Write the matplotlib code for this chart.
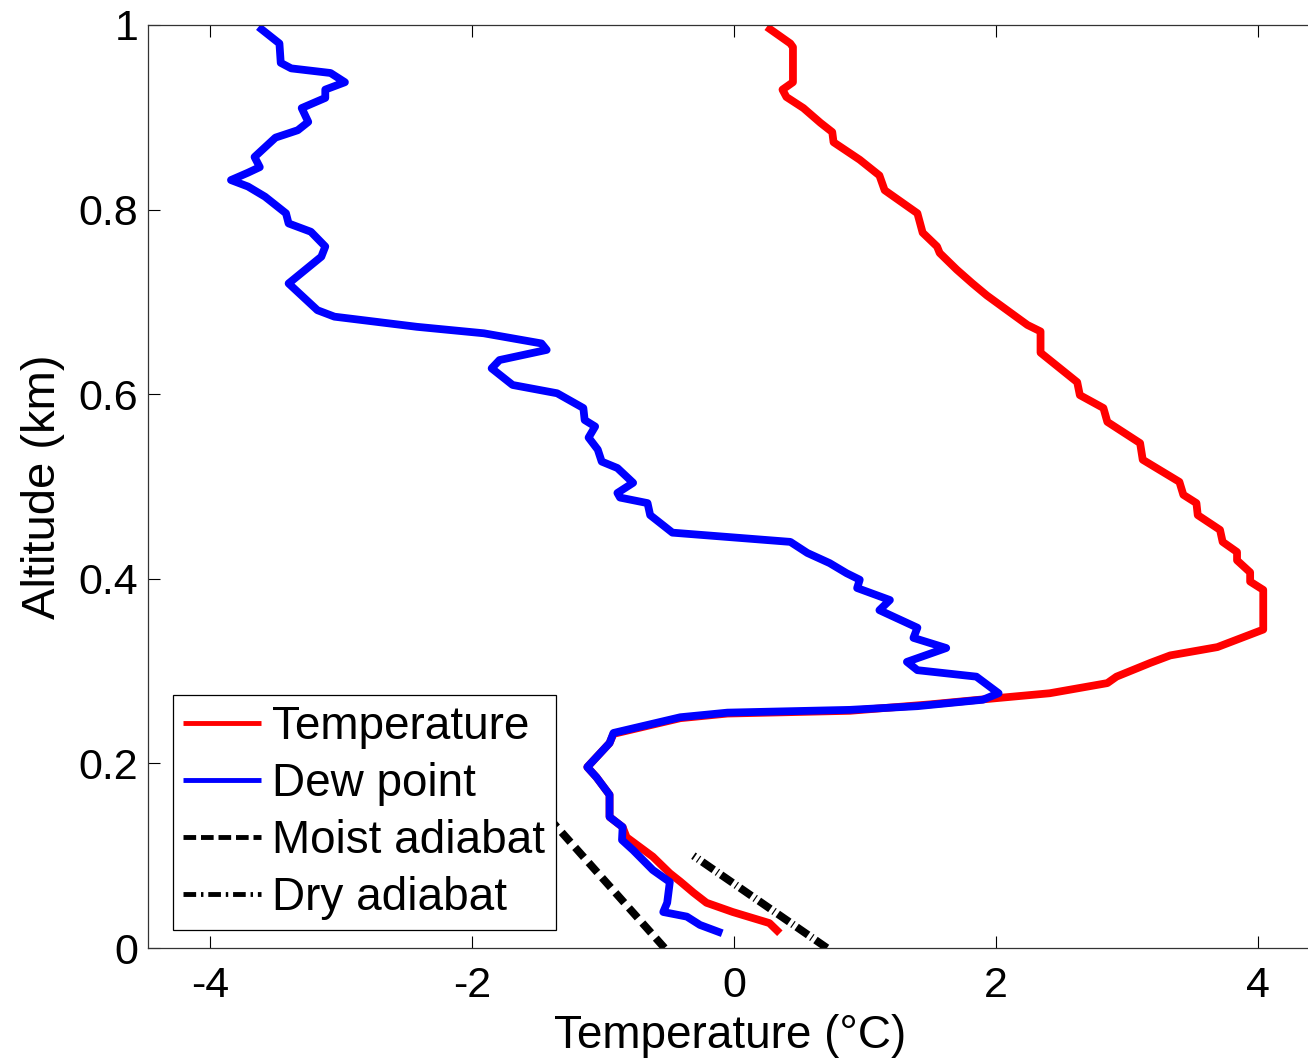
import numpy as np
from matplotlib import pyplot as plt

plt.rcParams['font.family'] = ['Liberation Sans', 'DejaVu Sans']

# dew point profile (altitude km, temperature C)
dew_z = [0.998, 0.98, 0.959, 0.953, 0.948, 0.938, 0.93, 0.921, 0.91, 0.895,
         0.886, 0.878, 0.857, 0.846, 0.84, 0.832, 0.825, 0.814, 0.796, 0.785,
         0.776, 0.76, 0.749, 0.72, 0.691, 0.684, 0.673, 0.666, 0.655, 0.648,
         0.637, 0.628, 0.61, 0.601, 0.585, 0.572, 0.565, 0.553, 0.54, 0.527,
         0.52, 0.504, 0.493, 0.488, 0.482, 0.469, 0.45, 0.44, 0.428, 0.417,
         0.406, 0.399, 0.39, 0.377, 0.366, 0.347, 0.336, 0.325, 0.31, 0.301,
         0.294, 0.276, 0.269, 0.262, 0.258, 0.255, 0.25, 0.233, 0.222, 0.196,
         0.185, 0.166, 0.142, 0.131, 0.117, 0.106, 0.0845, 0.0715, 0.049, 0.039,
         0.034, 0.025, 0.016]
dew_T = [-3.63, -3.47, -3.46, -3.38, -3.08, -2.97, -3.12, -3.12, -3.30, -3.25,
         -3.33, -3.50, -3.66, -3.62, -3.71, -3.84, -3.71, -3.58, -3.42, -3.40,
         -3.23, -3.12, -3.15, -3.40, -3.18, -3.05, -2.42, -1.91, -1.47, -1.43,
         -1.79, -1.85, -1.69, -1.35, -1.15, -1.14, -1.06, -1.11, -1.04, -1.01,
         -0.89, -0.77, -0.89, -0.87, -0.66, -0.64, -0.47, 0.43, 0.56, 0.73,
         0.86, 0.96, 0.94, 1.19, 1.11, 1.40, 1.37, 1.62, 1.32, 1.40,
         1.85, 2.02, 1.90, 1.40, 0.885, -0.05, -0.41, -0.92, -0.95, -1.12,
         -1.05, -0.95, -0.95, -0.85, -0.855, -0.77, -0.62, -0.49, -0.51, -0.54,
         -0.36, -0.26, -0.09]

# temperature profile
temp_z = [0.998, 0.98, 0.976, 0.938, 0.93, 0.922, 0.91, 0.894, 0.884, 0.873,
          0.854, 0.837, 0.821, 0.796, 0.775, 0.76, 0.753, 0.735, 0.72, 0.707,
          0.675, 0.668, 0.645, 0.613, 0.599, 0.585, 0.57, 0.547, 0.529, 0.505,
          0.491, 0.482, 0.469, 0.453, 0.44, 0.429, 0.42, 0.407, 0.397, 0.388,
          0.345, 0.326, 0.317, 0.309, 0.294, 0.287, 0.276, 0.27, 0.264, 0.257,
          0.254, 0.249, 0.232, 0.222, 0.196, 0.185, 0.166, 0.142, 0.131, 0.12,
          0.099, 0.081, 0.072, 0.06, 0.049, 0.039, 0.027, 0.016]
temp_T = [0.25, 0.43, 0.45, 0.45, 0.37, 0.40, 0.53, 0.66, 0.75, 0.76,
          0.96, 1.11, 1.15, 1.40, 1.44, 1.55, 1.57, 1.70, 1.82, 1.93,
          2.24, 2.34, 2.34, 2.62, 2.64, 2.82, 2.85, 3.10, 3.12, 3.40,
          3.43, 3.53, 3.54, 3.71, 3.73, 3.84, 3.84, 3.94, 3.94, 4.04,
          4.04, 3.69, 3.33, 3.18, 2.92, 2.85, 2.41, 1.95, 1.50, 0.885,
          -0.05, -0.41, -0.92, -0.95, -1.12, -1.05, -0.95, -0.95, -0.85, -0.82,
          -0.62, -0.49, -0.41, -0.31, -0.21, -0.01, 0.27, 0.35]

# adiabats (two end points each)
moist_z = [0.0, 0.15]
moist_T = [-0.53, -1.47]
dry_z = [0.0, 0.1]
dry_T = [0.71, -0.31]

fig = plt.figure(figsize=(13.08, 10.60), dpi=100)
ax = fig.add_axes([148/1308, 112/1060, (1312-148)/1308, 923/1060])

lw = 5.6
ax.plot(temp_T, temp_z, color=(1, 0, 0), lw=lw, solid_joinstyle='round',
        solid_capstyle='butt', label='Temperature')
ax.plot(dew_T, dew_z, color=(0, 0, 1), lw=lw, solid_joinstyle='round',
        solid_capstyle='butt', label='Dew point')
ax.plot(moist_T, moist_z, color='k', lw=lw, dashes=(1.7, 0.9), label='Moist adiabat')
ax.plot(dry_T, dry_z, color='k', lw=lw, dashes=(1.8, 0.5, 0.15, 0.5), label='Dry adiabat')

ax.set_xlim((148-734)/131, (1312-734)/131)
ax.set_ylim(0, 1)
ax.set_xticks([-4, -2, 0, 2, 4])
ax.set_xticklabels(['-4', '-2', '0', '2', '4'])
ax.set_yticks([0, 0.2, 0.4, 0.6, 0.8, 1])
ax.set_yticklabels(['0', '0.2', '0.4', '0.6', '0.8', '1'])
ax.tick_params(direction='in', length=8.5, width=0.8, labelsize=31, top=True, right=False)
ax.tick_params(axis='x', pad=13)
ax.tick_params(axis='y', pad=7)
for s in ax.spines.values():
    s.set_linewidth(0.9)
    s.set_color('#333333')

ax.set_xlabel('Temperature (\u00b0C)', fontsize=33, labelpad=6)
ax.set_ylabel('Altitude (km)', fontsize=34, labelpad=10)

leg = ax.legend(loc='lower left', bbox_to_anchor=(0.0215, 0.0195), borderaxespad=0,
                fontsize=33, fancybox=False, edgecolor='k', framealpha=1,
                handlelength=1.7, handletextpad=0.25, labelspacing=0.28,
                borderpad=0.22)
leg.get_frame().set_linewidth(0.9)
hl = leg.get_lines()
for h in hl:
    h.set_linewidth(3.5)
hl[2].set_dashes((2.6, 1.0))
hl[3].set_dashes((2.6, 1.0, 0.5, 1.0))

fig.savefig('out.png', dpi=100)
